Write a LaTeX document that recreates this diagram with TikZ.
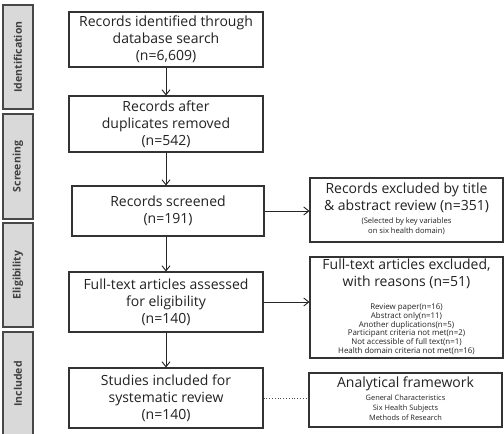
\documentclass[tikz,border=0pt]{standalone}
\usepackage{fontspec}
\setmainfont{Open Sans}
\usetikzlibrary{arrows.meta}
\definecolor{txt}{HTML}{222222}
\definecolor{edge}{HTML}{333333}
\tikzset{
  mainbox/.style={draw=edge, line width=1.1pt, fill=white, minimum width=#1, inner sep=0pt, align=center, text=txt,
    font=\fontsize{14}{17}\selectfont},
  sidebox/.style={draw=edge!90, line width=1.4pt, fill=black!15, inner sep=0pt, text=black!75,
    font=\fontsize{10.5}{12}\selectfont\bfseries, rotate=90},
  flow/.style={-{Straight Barb[length=5pt,width=8pt]}, line width=0.9pt, draw=black!85},
}
\newcommand{\smallblock}[3]{{\fontsize{#1}{#2}\selectfont\begin{tabular}[t]{@{}c@{}}#3\end{tabular}}}
\begin{document}
\begin{tikzpicture}[x=1pt,y=-1pt]
\useasboundingbox (0,0) rectangle (504,434);
% side labels
\node[sidebox, minimum width=104pt, minimum height=30pt] (sI) at (18,57) {Identification};
\node[sidebox, minimum width=105pt, minimum height=30pt] (sS) at (18,166.5) {Screening};
\node[sidebox, minimum width=104pt, minimum height=30pt] (sE) at (18,275) {Eligibility};
\node[sidebox, minimum width=104pt, minimum height=30pt] (sN) at (18,384) {Included};
% main column
\node[mainbox=194pt, minimum height=55pt] (b1) at (166,39.5) {Records identified through\\database search\\(n=6,609)};
\node[mainbox=194pt, minimum height=56pt] (b2) at (166,124) {Records after\\duplicates removed\\(n=542)};
\node[mainbox=192pt, minimum height=50pt] (b3) at (168,211) {Records screened\\(n=191)};
\node[mainbox=194pt, minimum height=60pt] (b4) at (166,302) {Full-text articles assessed\\for eligibility\\(n=140)};
\node[mainbox=194pt, minimum height=60pt] (b5) at (166,398) {Studies included for\\systematic review\\(n=140)};
% right column
\node[mainbox=193pt, minimum height=64pt] (r1) at (406.5,210) {Records excluded by title\\\& abstract review (n=351)\\[-4pt]
  \smallblock{7.6}{10}{(Selected by key variables\\on six health domain)}};
\node[mainbox=193pt, minimum height=101pt] (r2) at (406.5,307.5) {Full-text articles excluded,\\with reasons (n=51)\\[6pt]
  \smallblock{7.9}{8.7}{Review paper(n=16)\\Abstract only(n=11)\\Another duplications(n=5)\\Participant criteria not met(n=2)\\Not accessible of full text(n=1)\\Health domain criteria not met(n=16)}};
\node[mainbox=193pt, minimum height=54pt] (r3) at (405.5,400) {Analytical framework\\[-4pt]
  \smallblock{7.4}{10}{General Characteristics\\Six Health Subjects\\Methods of Research}};
% connectors
\draw[flow] (b1.south) -- (b2.north);
\draw[flow] (b2.south) -- (b2.south |- b3.north);
\draw[flow] (b3.south -| b4.north) -- (b4.north);
\draw[flow] (b4.south) -- (b5.north);
\draw[flow] (b3.east) -- (b3.east -| r1.west);
\draw[flow] (b4.east) -- (b4.east -| r2.west);
\draw[line width=0.8pt, dotted, draw=black!70] (b5.east) -- (b5.east -| r3.west);
\end{tikzpicture}
\end{document}
